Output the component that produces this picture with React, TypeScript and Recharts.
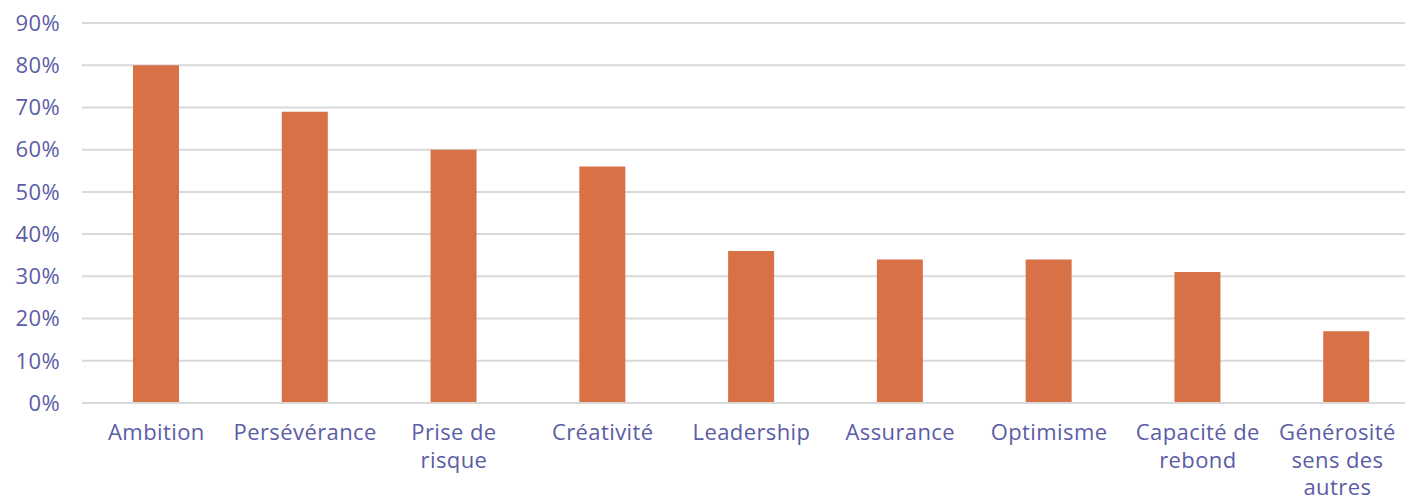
import { BarChart, Bar, XAxis, YAxis, CartesianGrid } from 'recharts';

const categories = [
  'Ambition',
  'Persévérance',
  'Prise de risque',
  'Créativité',
  'Leadership',
  'Assurance',
  'Optimisme',
  'Capacité de rebond',
  'Générosité sens des autres',
];

// how each category label wraps under the axis
const tickLines = [
  ['Ambition'],
  ['Persévérance'],
  ['Prise de', 'risque'],
  ['Créativité'],
  ['Leadership'],
  ['Assurance'],
  ['Optimisme'],
  ['Capacité de', 'rebond'],
  ['Générosité', 'sens des', 'autres'],
];

const shares = [0.8, 0.69, 0.6, 0.56, 0.36, 0.34, 0.34, 0.31, 0.17];

const yTicks = [0, 0.1, 0.2, 0.3, 0.4, 0.5, 0.6, 0.7, 0.8, 0.9];

const data = categories.map((name, i) => ({ name, share: shares[i] }));

const TEXT = '#5b5ca6';
const FONT = '"Open Sans", sans-serif';
const FS = 22;
const VIEW_W = 1405;

function CategoryTick(props: any) {
  const { x, y, index } = props;
  const lines = tickLines[index] || [categories[index]];
  // keep labels inside the visible frame, like the original does
  const approxW = Math.max(...lines.map((l) => l.length)) * FS * 0.56;
  const cx = Math.min(x, VIEW_W - 6 - approxW / 2);
  return (
    <text
      x={cx}
      y={y}
      textAnchor="middle"
      fill={TEXT}
      fontSize={FS}
      fontFamily={FONT}
      letterSpacing={0.4}
    >
      {lines.map((line, i) => (
        <tspan key={i} x={cx} dy={i === 0 ? 15 : 27.5}>
          {line}
        </tspan>
      ))}
    </text>
  );
}

export default function App() {
  return (
    <div style={{ width: VIEW_W, height: 501, overflow: 'hidden', background: '#fff' }}>
      <style>{'body{margin:0;overflow:hidden}'}</style>
      <BarChart
        width={1421}
        height={501}
        data={data}
        margin={{ top: 23, right: 0, left: 0, bottom: 8 }}
      >
        <CartesianGrid vertical={false} stroke="#d9d9d9" strokeWidth={2} />
        <XAxis
          dataKey="name"
          tick={<CategoryTick />}
          tickLine={false}
          axisLine={{ stroke: '#d9d9d9', strokeWidth: 2 }}
          tickSize={0}
          tickMargin={22}
          height={90}
          interval={0}
        />
        <YAxis
          domain={[0, 0.9]}
          ticks={yTicks}
          tickFormatter={(v: number) => `${Math.round(v * 100)}%`}
          axisLine={false}
          tickLine={false}
          tickSize={0}
          tickMargin={22}
          width={82}
          tick={{ fill: TEXT, fontSize: FS, fontFamily: FONT, letterSpacing: 0.4 }}
        />
        <Bar dataKey="share" fill="#d97146" barSize={46} isAnimationActive={false} />
      </BarChart>
    </div>
  );
}
